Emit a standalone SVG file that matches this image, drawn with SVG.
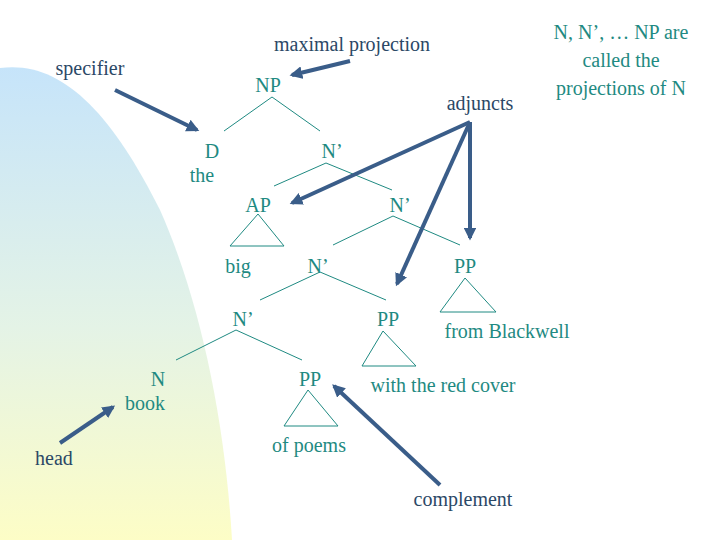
<svg xmlns="http://www.w3.org/2000/svg" width="720" height="540" viewBox="0 0 720 540">
<defs>
<linearGradient id="bg" x1="0" y1="0" x2="0" y2="1">
<stop offset="0" stop-color="#c6e4fa"/><stop offset="0.55" stop-color="#e4f3e6"/><stop offset="1" stop-color="#fdfdc6"/>
</linearGradient>
<marker id="ah" viewBox="0 0 10 10" refX="8" refY="5" markerWidth="3.2" markerHeight="3.2" orient="auto"><path d="M0,0 L10,5 L0,10 z" fill="#3a5d89"/></marker>
<style>
text{font-family:'Liberation Serif','DejaVu Serif Condensed','DejaVu Serif',serif;font-size:20px}
.t{fill:#1f8a82}
.l{fill:#2b4866}
.e{stroke:#1f8a82;stroke-width:1;fill:none}
.a{stroke:#3a5d89;stroke-width:4;fill:none;marker-end:url(#ah)}
</style>
</defs>
<rect width="720" height="540" fill="#fff"/>
<path d="M0,540 L0,68 C60,60 110,110 160,210 C200,300 225,420 232,540 Z" fill="url(#bg)"/>
<g id="edges">
<path class="e" d="M272,97 L224,131 M272,97 L320,131"/>
<path class="e" d="M326,163 L274,186 M326,163 L392,190"/>
<path class="e" d="M393,216 L333,245 M393,216 L460,245"/>
<path class="e" d="M320,272 L260,300 M320,272 L386,300"/>
<path class="e" d="M236,330 L176,360 M236,330 L302,360"/>
<path class="e" d="M258,214 L230,246 L284,246 Z"/>
<path class="e" d="M465,278 L440,312 L496,312 Z"/>
<path class="e" d="M383,331 L362,366 L416,366 Z"/>
<path class="e" d="M308,390 L284,426 L338,426 Z"/>
</g>
<g id="nodes">
<g id="np"><text class="t" x="268" y="92" text-anchor="middle">NP</text></g>
<g id="d"><text class="t" x="212" y="158" text-anchor="middle">D</text><text class="t" x="202" y="182" text-anchor="middle">the</text></g>
<g id="n1"><text class="t" x="332" y="158" text-anchor="middle">N’</text></g>
<g id="ap"><text class="t" x="258" y="212" text-anchor="middle">AP</text><text class="t" x="238" y="273" text-anchor="middle">big</text></g>
<g id="n2"><text class="t" x="400" y="212" text-anchor="middle">N’</text></g>
<g id="n3"><text class="t" x="318" y="273" text-anchor="middle">N’</text></g>
<g id="pp1"><text class="t" x="465" y="273" text-anchor="middle">PP</text><text class="t" x="507" y="338" text-anchor="middle">from Blackwell</text></g>
<g id="n4"><text class="t" x="243" y="326" text-anchor="middle">N’</text></g>
<g id="pp2"><text class="t" x="388" y="326" text-anchor="middle">PP</text><text class="t" x="443" y="392" text-anchor="middle">with the red cover</text></g>
<g id="n"><text class="t" x="158" y="386" text-anchor="middle">N</text><text class="t" x="145" y="410" text-anchor="middle">book</text></g>
<g id="pp3"><text class="t" x="310" y="386" text-anchor="middle">PP</text><text class="t" x="309" y="452" text-anchor="middle">of poems</text></g>
<g id="note"><text class="t" x="621" y="39" text-anchor="middle">N, N’, … NP are</text><text class="t" x="621" y="67" text-anchor="middle">called the</text><text class="t" x="621" y="95" text-anchor="middle">projections of N</text></g>
<g id="lbl-max"><text class="l" x="352" y="51" text-anchor="middle">maximal projection</text></g>
<g id="lbl-spec"><text class="l" x="90" y="75" text-anchor="middle">specifier</text></g>
<g id="lbl-adj"><text class="l" x="480" y="110" text-anchor="middle">adjuncts</text></g>
<g id="lbl-head"><text class="l" x="54" y="465" text-anchor="middle">head</text></g>
<g id="lbl-comp"><text class="l" x="463" y="506" text-anchor="middle">complement</text></g>
</g>
<g id="connectors">
<path class="a" d="M350,61 L292,75"/>
<path class="a" d="M115,90 L197,130"/>
<path class="a" d="M470,122 L292,203"/>
<path class="a" d="M470,122 L397,284"/>
<path class="a" d="M470,122 L470,238"/>
<path class="a" d="M60,443 L113,407"/>
<path class="a" d="M440,485 L334,386"/>
</g>
</svg>
